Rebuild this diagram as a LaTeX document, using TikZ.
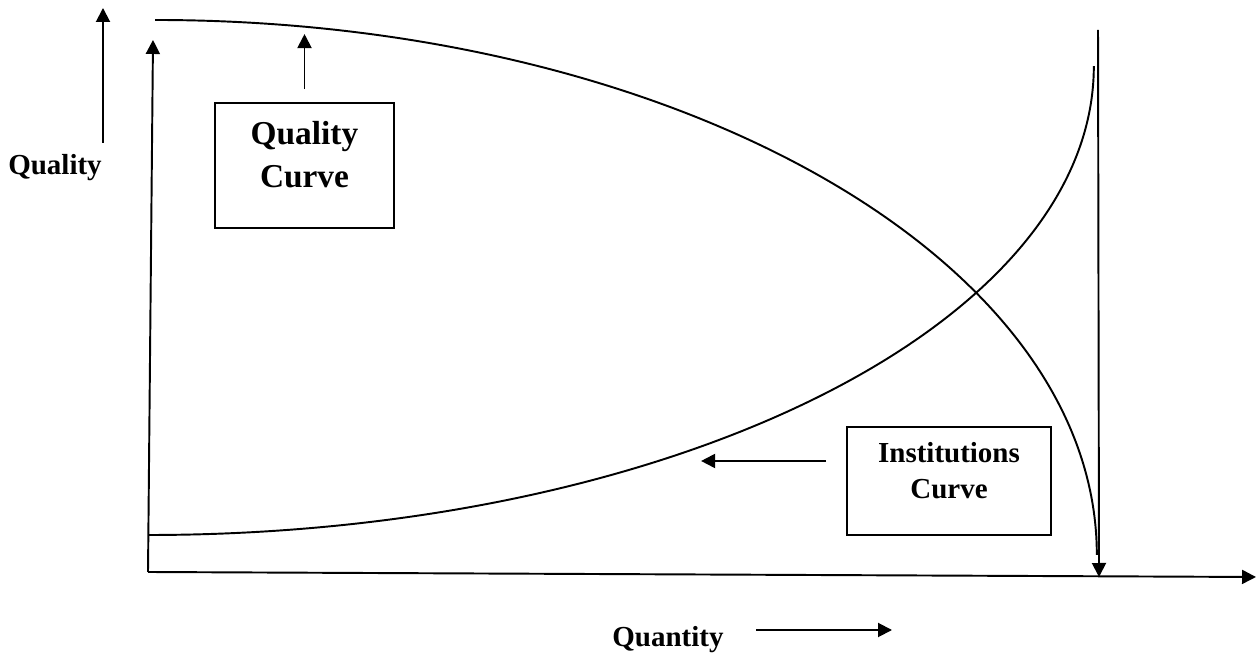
\documentclass[tikz,border=0pt]{standalone}
\usepackage{fontspec}
\setmainfont{Liberation Serif}
\usetikzlibrary{arrows.meta}

\begin{document}
\begin{tikzpicture}[
    x=0.02cm,y=0.02cm,>={Triangle[length=0.28cm,width=0.28cm]},
    every node/.style={font=\bfseries,align=center},
    axislabel/.style={font=\bfseries\fontsize{16.5}{20}\selectfont},
    curvebox/.style={draw=black,line width=1.1pt,inner sep=0pt},
    line/.style={draw=black,line width=1.1pt},
    flow/.style={->,draw=black,line width=1.1pt}
]
\useasboundingbox (0,0) rectangle (1256,658);

% axes
\coordinate (origin) at (148,86);
\coordinate (ytop) at (153,618);
\coordinate (xend) at (1256,81);
\draw[flow] (origin) -- (ytop);
\draw[flow] (origin) -- (xend);

% curves
\draw[line] (155,638) arc[start angle=90,end angle=0,x radius=18.84cm,y radius=10.7cm];
\draw[line] (148,123) arc[start angle=270,end angle=360,x radius=18.92cm,y radius=9.38cm];
\coordinate (limtop) at (1098,628);
\coordinate (limfoot) at (1099,81);
\draw[flow] (limtop) -- (limfoot);

% labels
\node[axislabel,anchor=base] (qualitylabel) at (55,483) {Quality};
\coordinate (qualtail) at (103,515);
\coordinate (qualhead) at (103,650);
\draw[flow] (qualtail) -- (qualhead);

\node[axislabel,anchor=base] (quantitylabel) at (668,11) {Quantity};
\coordinate (quanttail) at (756,28);
\coordinate (quanthead) at (892,28);
\draw[flow] (quanttail) -- (quanthead);

\node[curvebox,font=\bfseries\fontsize{19}{24}\selectfont,minimum width=3.58cm,minimum height=2.5cm,text depth=0.44cm] (qualitybox) at (304.5,492.5) {Quality\\Curve};
\draw[flow] ([yshift=0.26cm]qualitybox.north) -- ++(0,55);

\node[curvebox,font=\bfseries\fontsize{16.5}{20}\selectfont,minimum width=4.08cm,minimum height=2.16cm,text depth=0.42cm] (instbox) at (949,177) {Institutions\\Curve};
\draw[flow] ([shift={(-20,20)}]instbox.west) -- ++(-125,0);
\end{tikzpicture}
\end{document}
